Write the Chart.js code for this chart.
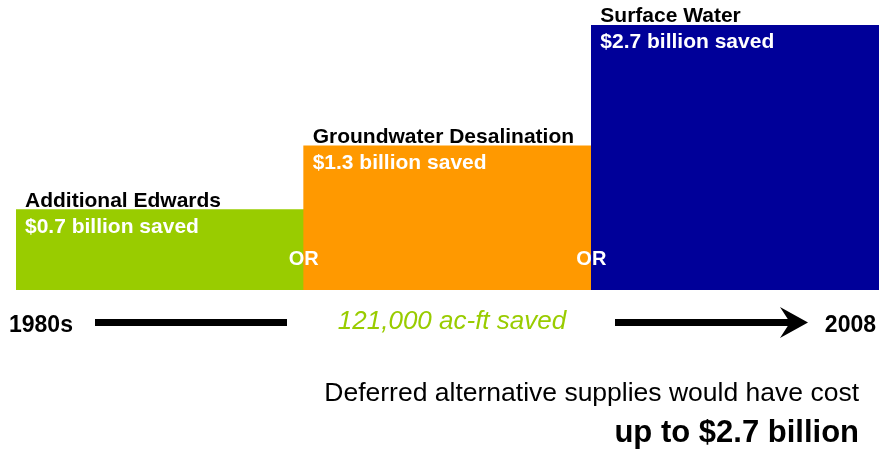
<!DOCTYPE html>
<html>
<head>
<meta charset="utf-8">
<script src="https://cdn.jsdelivr.net/npm/chart.js@4"></script>
<style>
    html, body { margin: 0; padding: 0; background: #ffffff; }
    #wrap { width: 880px; height: 450px; }
</style>
</head>
<body>
<div id="wrap"><canvas id="savingsChart" width="880" height="450"></canvas></div>
<script>
// Chart data
const categories = ['Additional Edwards', 'Groundwater Desalination', 'Surface Water'];
const savedBillions = [0.7, 1.3, 2.7];
// bar heights as drawn in the picture (same units, schematic)
const barHeights = [0.82, 1.47, 2.7];
const barColors = ['#99CC00', '#FF9900', '#000099'];
const timelineStart = '1980s';
const timelineEnd = '2008';
const acreFeetSaved = '121,000 ac-ft saved';
const footLine1 = 'Deferred alternative supplies would have cost';
const footLine2 = 'up to $2.7 billion';

const FONT = '"Liberation Sans", Arial, sans-serif';

// Labels, "OR" markers, timeline and footnote
const annotationPlugin = {
    id: 'annotations',
    afterDatasetsDraw(chart) {
        const ctx = chart.ctx;
        const meta = chart.getDatasetMeta(0);
        ctx.save();
        ctx.textAlign = 'left';
        ctx.textBaseline = 'alphabetic';

        meta.data.forEach((bar, i) => {
            const left = bar.x - bar.width / 2;
            // title above bar
            ctx.fillStyle = '#000000';
            ctx.font = 'bold 21px ' + FONT;
            ctx.fillText(categories[i], left + 9, bar.y - 3);
            // savings inside bar
            ctx.fillStyle = '#ffffff';
            ctx.fillText('$' + savedBillions[i].toFixed(1) + ' billion saved', left + 9, bar.y + 23);
        });

        // "OR" on the boundaries between bars
        ctx.fillStyle = '#ffffff';
        ctx.font = 'bold 20px ' + FONT;
        ctx.textAlign = 'center';
        for (let i = 1; i < meta.data.length; i++) {
            const bx = meta.data[i].x - meta.data[i].width / 2;
            ctx.fillText('OR', bx, chart.chartArea.bottom - 25);
        }

        // timeline
        const ty = 322.5;
        ctx.fillStyle = '#000000';
        ctx.font = 'bold 23px ' + FONT;
        ctx.textAlign = 'left';
        ctx.fillText(timelineStart, 9, 332);
        ctx.textAlign = 'right';
        ctx.fillText(timelineEnd, 876, 332);

        ctx.strokeStyle = '#000000';
        ctx.lineWidth = 7;
        ctx.beginPath();
        ctx.moveTo(95, ty);
        ctx.lineTo(287, ty);
        ctx.moveTo(615, ty);
        ctx.lineTo(790, ty);
        ctx.stroke();

        ctx.beginPath();
        ctx.moveTo(808, ty);
        ctx.lineTo(780, 307);
        ctx.lineTo(790, ty);
        ctx.lineTo(780, 338);
        ctx.closePath();
        ctx.fill();

        ctx.fillStyle = '#99CC00';
        ctx.font = 'italic 26px ' + FONT;
        ctx.textAlign = 'center';
        ctx.fillText(acreFeetSaved, 452, 329);

        // footnote
        ctx.fillStyle = '#000000';
        ctx.textAlign = 'right';
        ctx.font = '26.5px ' + FONT;
        ctx.fillText(footLine1, 859, 401);
        ctx.font = 'bold 31px ' + FONT;
        ctx.fillText(footLine2, 859, 442);

        ctx.restore();
    }
};

new Chart(document.getElementById('savingsChart'), {
    type: 'bar',
    data: {
        labels: categories,
        datasets: [{
            data: barHeights,
            backgroundColor: barColors,
            borderWidth: 0,
            barPercentage: 1,
            categoryPercentage: 1
        }]
    },
    options: {
        responsive: false,
        animation: false,
        devicePixelRatio: 1,
        layout: {
            padding: { left: 16, right: 1, top: 25, bottom: 160 }
        },
        scales: {
            x: { display: false },
            y: { display: false, min: 0, max: 2.7 }
        },
        plugins: {
            legend: { display: false },
            tooltip: { enabled: false }
        }
    },
    plugins: [annotationPlugin]
});
</script>
</body>
</html>
